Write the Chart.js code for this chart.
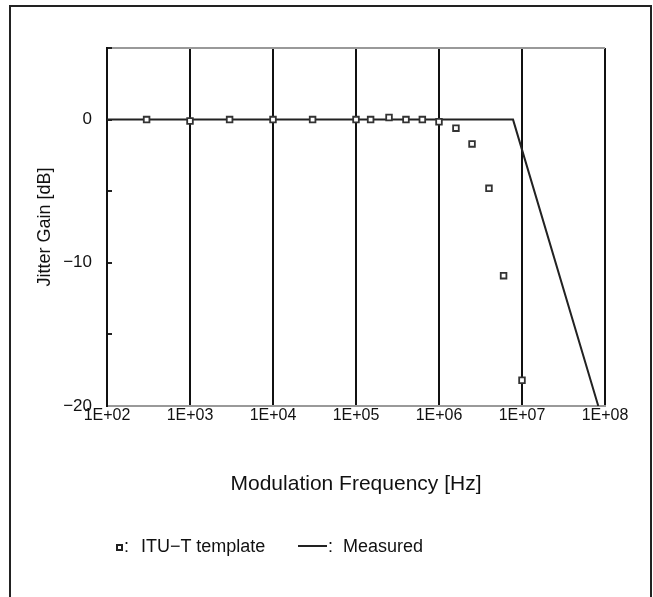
<!DOCTYPE html>
<html>
<head>
<meta charset="utf-8">
<script src="https://cdn.jsdelivr.net/npm/chart.js@4/dist/chart.umd.min.js"></script>
<style>
  html, body { margin: 0; padding: 0; background: #fff; }
  #wrap { position: relative; width: 653px; height: 597px; overflow: hidden; font-family: "Liberation Sans", Arial, sans-serif; color: #111; }
  #frame { position: absolute; left: 9px; top: 5px; width: 643px; height: 640px; border: 2px solid #222; box-sizing: border-box; }
  canvas { position: absolute; left: 0; top: 0; }
  .lg { position: absolute; font-size: 18px; line-height: 18px; white-space: pre; }
  #lgSq { position: absolute; left: 116px; top: 544px; width: 3px; height: 3px; border: 2px solid #222; }
  #lgLine { position: absolute; left: 298px; top: 545px; width: 29px; height: 2px; background: #222; }
</style>
</head>
<body>
<div id="wrap">
  <div id="frame"></div>
  <canvas id="chart" width="653" height="597"></canvas>
  <div id="lgSq"></div>
  <div class="lg" style="left:124px; top:537px;">:</div>
  <div class="lg" id="lgTemplate" style="left:141px; top:537px;">ITU−T template</div>
  <div id="lgLine"></div>
  <div class="lg" style="left:328px; top:537px;">:</div>
  <div class="lg" id="lgMeasured" style="left:343px; top:537px;">Measured</div>
</div>
<script>
// ITU-T template (square markers)
const templateFreq = [300, 1000, 3000, 1e4, 3e4, 1e5, 1.5e5, 2.5e5, 4e5, 6.3e5, 1e6, 1.6e6, 2.5e6, 4e6, 6e6, 1e7];
const templateGain = [0, -0.1, 0, 0, 0, 0, 0, 0.15, 0, 0, -0.15, -0.6, -1.7, -4.8, -10.9, -18.2];

// Measured (line)
const measuredFreq = [100, 7.8e6, 8.3e7];
const measuredGain = [0, 0, -20];

// axis ticks
const xTickValues = [1e2, 1e3, 1e4, 1e5, 1e6, 1e7, 1e8];
const xTickLabels = ['1E+02', '1E+03', '1E+04', '1E+05', '1E+06', '1E+07', '1E+08'];
const yTickValues = [-20, -10, 0];
const yTickLabels = ['−20', '−10', '0'];

const font = '"Liberation Sans", Arial, sans-serif';

const toPoints = (xs, ys) => xs.map((x, i) => ({ x: x, y: ys[i] }));

new Chart(document.getElementById('chart').getContext('2d'), {
    type: 'scatter',
    data: {
        datasets: [
            {
                label: 'Measured',
                data: toPoints(measuredFreq, measuredGain),
                showLine: true,
                borderColor: '#222',
                borderWidth: 2,
                pointRadius: 0,
                fill: false,
                order: 2
            },
            {
                label: 'ITU−T template',
                data: toPoints(templateFreq, templateGain),
                showLine: false,
                pointStyle: 'rect',
                pointRadius: 4,
                borderColor: '#333',
                borderWidth: 1.8,
                backgroundColor: '#fff',
                order: 1
            }
        ]
    },
    options: {
        responsive: false,
        animation: false,
        layout: { padding: { left: 0, right: 48, top: 48, bottom: 91 } },
        plugins: {
            legend: { display: false },
            tooltip: { enabled: false }
        },
        scales: {
            x: {
                type: 'logarithmic',
                min: 1e2,
                max: 1e8,
                afterBuildTicks: (scale) => {
                    scale.ticks = xTickValues.map(v => ({ value: v, major: true }));
                },
                afterFit: (scale) => { scale.height = 100; },
                grid: {
                    color: '#111',
                    lineWidth: 2,
                    drawTicks: false
                },
                border: { color: '#999', width: 2 },
                ticks: {
                    padding: 0,
                    color: '#111',
                    font: { family: font, size: 16 },
                    maxRotation: 0,
                    autoSkip: false,
                    callback: (value) => {
                        const i = xTickValues.indexOf(value);
                        return i >= 0 ? xTickLabels[i] : '';
                    }
                },
                title: {
                    display: true,
                    text: 'Modulation Frequency [Hz]',
                    color: '#111',
                    font: { family: font, size: 21 },
                    padding: { top: 0, bottom: 9 }
                }
            },
            y: {
                type: 'linear',
                min: -20,
                max: 5,
                afterFit: (scale) => { scale.width = 107; },
                grid: {
                    color: (ctx) => (ctx.tick && ctx.tick.value === 5 ? '#999' : 'rgba(0,0,0,0)'),
                    tickColor: '#222',
                    lineWidth: 2,
                    tickLength: -5
                },
                border: { color: '#111', width: 2 },
                ticks: {
                    stepSize: 5,
                    padding: 20,
                    color: '#111',
                    font: { family: font, size: 17 },
                    callback: (value) => {
                        const i = yTickValues.indexOf(value);
                        return i >= 0 ? yTickLabels[i] : '';
                    }
                },
                title: {
                    display: true,
                    text: 'Jitter Gain [dB]',
                    color: '#111',
                    font: { family: font, size: 18 },
                    padding: { top: 34, bottom: 0 }
                }
            }
        }
    }
});
</script>
</body>
</html>
